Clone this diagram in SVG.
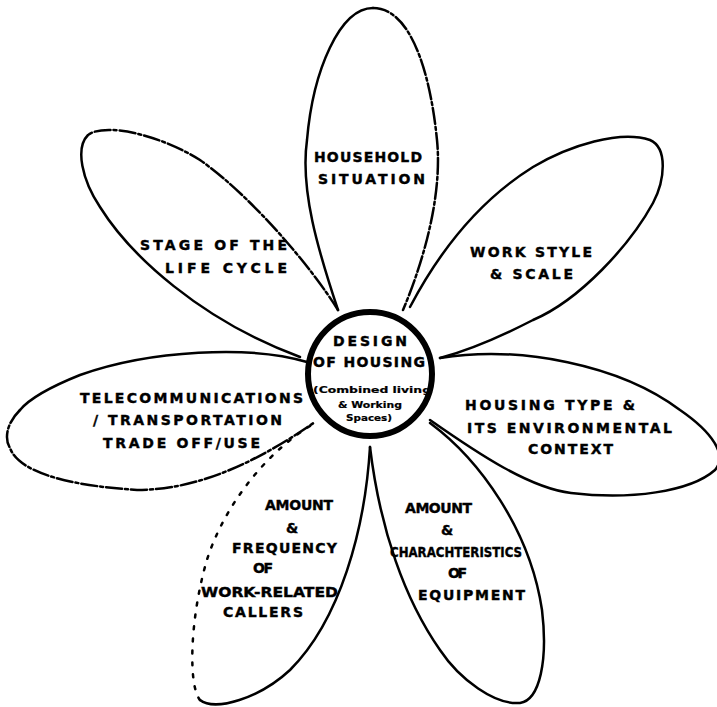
<svg xmlns="http://www.w3.org/2000/svg" width="717" height="707" viewBox="0 0 717 707">
<style>
.bg{fill:#fff}
.edge{fill:none;stroke:#000;stroke-width:2.5;stroke-linecap:round;stroke-linejoin:round}
.dash{stroke-dasharray:16 3 3 3}
.dots{stroke-dasharray:3 9}
.hub{fill:#fff;stroke:#000;stroke-width:6}
.lbl{font-family:"DejaVu Sans","Liberation Sans",Arial,sans-serif;font-weight:bold;font-size:14px;fill:#000;stroke:#000;stroke-width:0.4}
.mid{text-anchor:middle}
.sm{font-family:"DejaVu Sans","Liberation Sans",Arial,sans-serif;font-weight:bold;font-size:8.5px;fill:#000;stroke:#000;stroke-width:0.2}
</style>
<rect class="bg" x="0" y="0" width="717" height="707"/>

<g id="petal-household">
<path class="edge" d="M338,310 C318,250 300,190 307,140 C313,70 340,8 373,8"/>
<path class="edge dash" d="M373,8 C410,8 430,70 437,140 C443,200 420,270 403,310"/>
<text class="lbl" x="314" y="162" textLength="108">HOUSEHOLD</text>
<text class="lbl" x="318" y="184" textLength="107">SITUATION</text>
</g>

<g id="petal-lifecycle">
<path class="edge dash" d="M338,310 C310,265 250,195 200,160 C160,135 105,122 88,135"/>
<path class="edge" d="M88,135 C75,148 82,180 100,207 C130,255 200,320 300,357"/>
<text class="lbl" x="140" y="250" textLength="147">STAGE OF THE</text>
<text class="lbl" x="165" y="273" textLength="122">LIFE CYCLE</text>
</g>

<g id="petal-workstyle">
<path class="edge" d="M410,307 C440,250 480,200 533,167 C570,145 620,130 650,140 C668,148 665,180 653,203 C630,245 580,300 533,320 C500,337 470,350 440,358"/>
<text class="lbl" x="470" y="257" textLength="122">WORK STYLE</text>
<text class="lbl" x="490" y="279" textLength="83">&amp; SCALE</text>
</g>

<g id="petal-housingtype">
<path class="edge" d="M440,358 C520,345 620,365 680,410 C712,432 728,455 715,470 C690,492 630,500 571,493 C530,488 480,455 430,420"/>
<text class="lbl" x="465" y="410" textLength="170">HOUSING TYPE &amp;</text>
<text class="lbl" x="467" y="433" textLength="205">ITS ENVIRONMENTAL</text>
<text class="lbl" x="528" y="454" textLength="85">CONTEXT</text>
</g>

<g id="petal-equipment">
<path class="edge" d="M430,423 C480,460 530,530 542,610 C548,660 540,700 520,703 C495,705 460,680 440,650 C405,600 380,530 370,447"/>
<text class="lbl" x="405" y="513" textLength="67">AMOUNT</text>
<text class="lbl mid" x="447" y="535">&amp;</text>
<text class="lbl" x="390" y="557" textLength="132" lengthAdjust="spacingAndGlyphs">CHARACHTERISTICS</text>
<text class="lbl" x="448" y="578" textLength="19">OF</text>
<text class="lbl" x="418" y="600" textLength="107">EQUIPMENT</text>
</g>

<g id="petal-callers">
<path class="edge" d="M370,447 C365,530 340,620 290,670 C260,698 215,712 200,700"/>
<path class="edge dots" d="M200,700 C188,685 190,620 206,563 C220,515 260,455 315,423"/>
<text class="lbl" x="265" y="510" textLength="68">AMOUNT</text>
<text class="lbl mid" x="292" y="533">&amp;</text>
<text class="lbl" x="232" y="553" textLength="105">FREQUENCY</text>
<text class="lbl" x="253" y="573" textLength="20">OF</text>
<text class="lbl" x="201" y="597" textLength="137" lengthAdjust="spacingAndGlyphs">WORK-RELATED</text>
<text class="lbl" x="223" y="617" textLength="80">CALLERS</text>
</g>

<g id="petal-telecom">
<path class="edge" d="M307,362 C250,345 150,350 80,375 C50,387 30,398 20,410"/>
<path class="edge dash" d="M20,410 C5,425 5,440 10,448 C18,470 60,485 137,490 C200,490 260,460 315,422"/>
<text class="lbl" x="80" y="403" textLength="223">TELECOMMUNICATIONS</text>
<text class="lbl" x="93" y="425" textLength="189">/ TRANSPORTATION</text>
<text class="lbl" x="103" y="448" textLength="157">TRADE OFF/USE</text>
</g>

<g id="hub-design">
<circle class="hub" cx="370" cy="374" r="62"/>
<text class="lbl" x="333" y="346" textLength="74">DESIGN</text>
<text class="lbl" x="313" y="367" textLength="112">OF HOUSING</text>
<text class="sm" x="313" y="393" textLength="118" lengthAdjust="spacingAndGlyphs">(Combined living</text>
<text class="sm" x="338" y="408" textLength="64" lengthAdjust="spacingAndGlyphs">&amp; Working</text>
<text class="sm" x="346" y="421" textLength="46" lengthAdjust="spacingAndGlyphs">Spaces)</text>
</g>

<g id="connectors"></g>
</svg>
